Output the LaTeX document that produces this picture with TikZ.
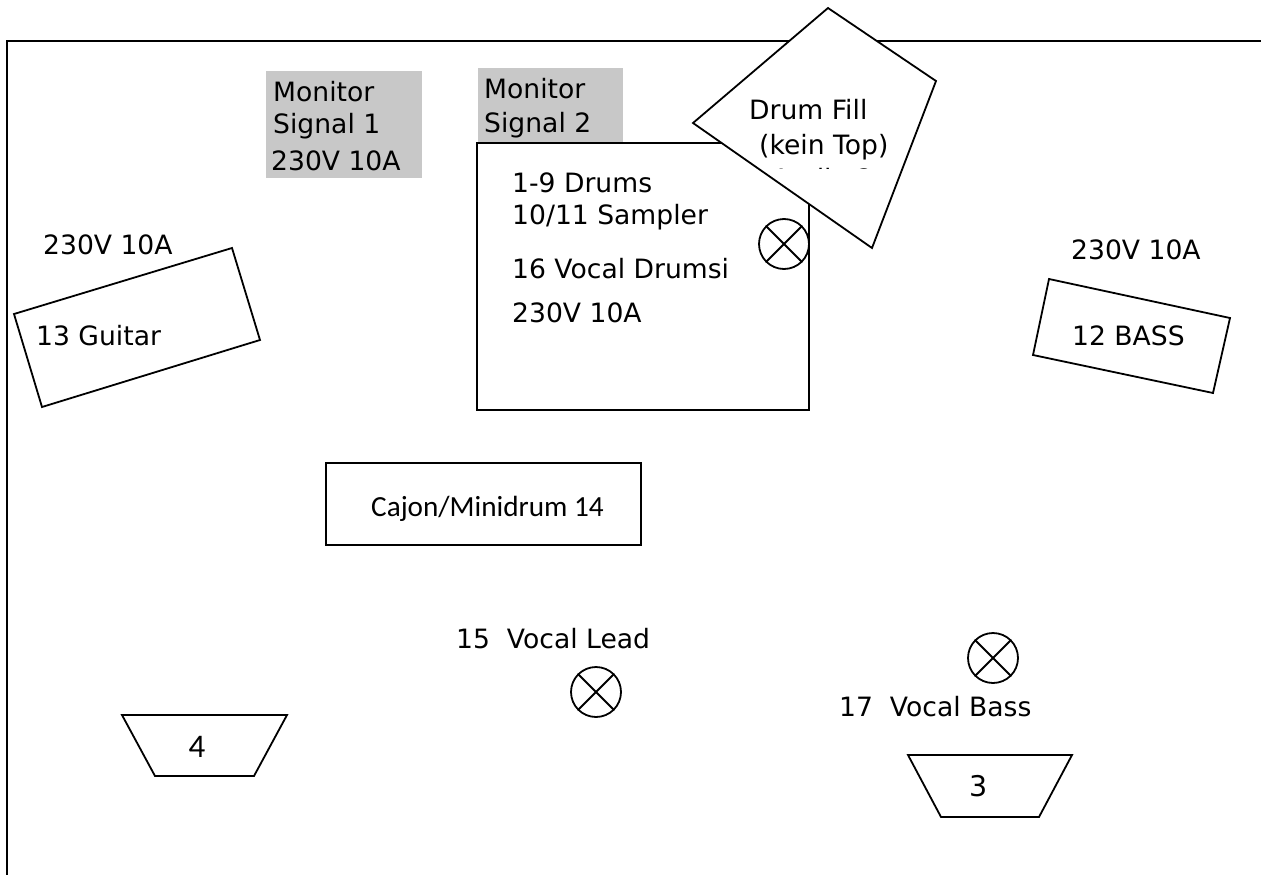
\documentclass[tikz,border=0pt]{standalone}
\usepackage{fontspec}
\setmainfont{DejaVu Sans}
\newfontfamily\calib{Carlito}
\definecolor{mongray}{RGB}{200,200,200}
\tikzset{
  lbl/.style={anchor=base west, inner sep=0pt, font=\fontsize{26.6}{30}\selectfont},
  clbl/.style={anchor=base, inner sep=0pt, font=\fontsize{28.5}{32}\selectfont},
  outline/.style={draw, line width=1.8pt},
  mic/.style={circle, draw, minimum size=50pt, inner sep=0pt, line width=1.8pt},
  greybox/.style={fill=mongray, draw=none}
}
\begin{document}
\begin{tikzpicture}[x=1pt,y=-1pt]
\useasboundingbox (0,0) rectangle (1261,875);
% stage border
\draw[line width=1.8pt] (1262,41) -- (7,41) -- (7,876);
% monitor signal boxes
\fill[greybox] (266,71) rectangle (422,178);
\fill[greybox] (478,68) rectangle (623,142);
% drums riser
\draw[outline] (477,143) rectangle (809,410);
% guitar amp
\draw[outline] (14,314) -- (232,248) -- (260,340) -- (42,407) -- cycle;
% bass amp
\draw[outline] (1049,279) -- (1230,318) -- (1213,393) -- (1033,355) -- cycle;
% drum fill wedge
\draw[outline, fill=white] (693,123) -- (828,8) -- (936,81) -- (872,248) -- cycle;
% cajon
\draw[outline] (326,463) rectangle (641,545);
% wedges
\draw[outline] (122,715) -- (287,715) -- (254,776) -- (155,776) -- cycle;
\draw[outline] (908,755) -- (1072,755) -- (1039,817) -- (941,817) -- cycle;
% mics
\node[mic] (micd) at (784,244) {};
\draw[line width=1.8pt] (micd.north west) -- (micd.south east) (micd.north east) -- (micd.south west);
\node[mic] (micl) at (596,692) {};
\draw[line width=1.8pt] (micl.north west) -- (micl.south east) (micl.north east) -- (micl.south west);
\node[mic] (micb) at (993,658) {};
\draw[line width=1.8pt] (micb.north west) -- (micb.south east) (micb.north east) -- (micb.south west);
% texts
\node[lbl] (m1a) at (273,102) {Monitor};
\node[lbl] (m1b) at (273,133) {Signal 1};
\node[lbl] (m1c) at (271,170) {230V 10A};
\node[lbl] (pg) at (43,254) {230V 10A};
\node[lbl] (tg) at (36,345) {13 Guitar};
\node[lbl] (m2a) at (484,98) {Monitor};
\node[lbl] (m2b) at (484,132) {Signal 2};
\node[lbl] (d1) at (512,192) {1-9 Drums};
\node[lbl] (d2) at (512,224) {10/11 Sampler};
\node[lbl] (d3) at (512,278) {16 Vocal Drumsi};
\node[lbl] (d4) at (512,322) {230V 10A};
\node[lbl] (pb) at (1071,259) {230V 10A};
\node[lbl] (tb) at (1072,345) {12 BASS};
\node[lbl] (f1) at (749,119) {Drum Fill};
\node[lbl] (f2) at (759,154) {(kein Top)};
\begin{scope}
\clip (740,161) rectangle (900,168);
\node[lbl] (f3) at (772,188) {Audio 2};
\end{scope}
\node[anchor=base west, inner sep=0pt, font=\calib\fontsize{29.2}{32}\selectfont] (cj) at (371,516) {Cajon/Minidrum 14};
\node[lbl] (vl) at (456,648) {15~ Vocal Lead};
\node[lbl] (vb) at (839,716) {17~ Vocal Bass};
\node[anchor=base, inner sep=0pt, font=\calib\fontsize{33}{36}\selectfont] (w4) at (197,757) {4};
\node[clbl] (w3) at (979,796) {3};
\end{tikzpicture}
\end{document}
